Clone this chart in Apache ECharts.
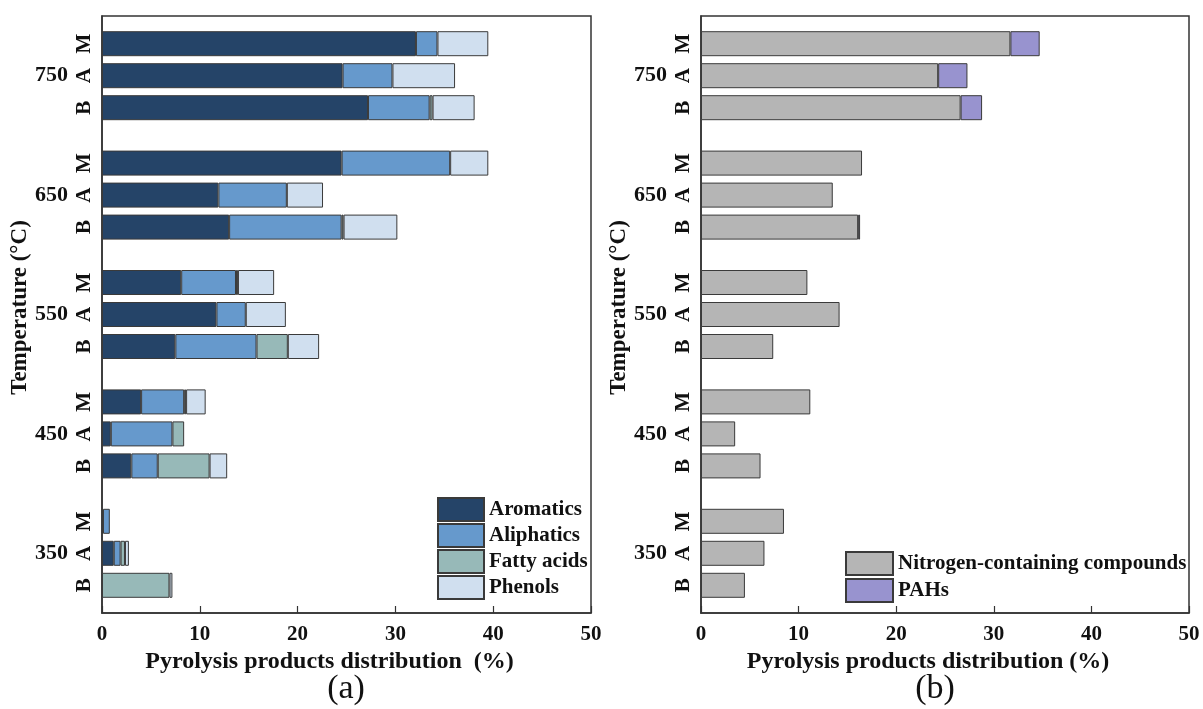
<!DOCTYPE html>
<html>
<head>
<meta charset="utf-8">
<script src="https://cdn.jsdelivr.net/npm/echarts@6/dist/echarts.min.js"></script>
<style>
html,body{margin:0;padding:0;background:#fff;}
#chart{width:1203px;height:709px;}
</style>
</head>
<body>
<div id="chart"></div>
<script>
// ---- data ----
const temps = ['350', '450', '550', '650', '750'];
const samples = ['M', 'A', 'B'];   // drawn top to bottom within each temperature

// panel (a) – values per temperature 350..750
const aromaticsB  = [0,   3.0, 7.5, 13.0, 27.2];
const aromaticsA  = [1.2, 0.9, 11.7, 11.9, 24.6];
const aromaticsM  = [0.1, 4.0, 8.1, 24.5, 32.1];
const aliphaticsB = [0,   2.7, 8.3, 11.5, 6.3];
const aliphaticsA = [0.7, 6.3, 3.0, 7.0, 5.1];
const aliphaticsM = [0.7, 4.4, 5.6, 11.1, 2.2];
const fattyB      = [6.9, 5.3, 3.2, 0.2, 0.3];
const fattyA      = [0.45, 1.2, 0, 0, 0];
const fattyM      = [0, 0.2, 0.2, 0, 0];
const phenolsB    = [0.3, 1.8, 3.2, 5.5, 4.3];
const phenolsA    = [0.4, 0, 4.1, 3.7, 6.4];
const phenolsM    = [0, 2.0, 3.7, 3.9, 5.2];

// panel (b)
const nitrogenB = [4.5, 6.1, 7.4, 16.1, 26.6];
const nitrogenA = [6.5, 3.5, 14.2, 13.5, 24.3];
const nitrogenM = [8.5, 11.2, 10.9, 16.5, 31.7];
const pahsB     = [0, 0, 0, 0.2, 2.2];
const pahsA     = [0, 0, 0, 0, 3.0];
const pahsM     = [0, 0, 0, 0, 3.0];

const xTicks = [0, 10, 20, 30, 40, 50];

// ---- styling ----
const FONT = '"Liberation Serif", "Times New Roman", serif';
const INK = '#111';
const AX = '#333';
const BW = 25;
const GAP = '28%';

const leftCats = [
  {name: 'Aromatics',   color: '#254468', d: {B: aromaticsB, A: aromaticsA, M: aromaticsM}},
  {name: 'Aliphatics',  color: '#6699cc', d: {B: aliphaticsB, A: aliphaticsA, M: aliphaticsM}},
  {name: 'Fatty acids', color: '#97b9b8', d: {B: fattyB, A: fattyA, M: fattyM}},
  {name: 'Phenols',     color: '#d0dfef', d: {B: phenolsB, A: phenolsA, M: phenolsM}}
];
const rightCats = [
  {name: 'Nitrogen-containing compounds', color: '#b5b5b5', d: {B: nitrogenB, A: nitrogenA, M: nitrogenM}},
  {name: 'PAHs', color: '#9893cf', d: {B: pahsB, A: pahsA, M: pahsM}}
];

function nz(arr) { return arr.map(v => v === 0 ? '-' : v); }

const series = [];
function buildPanel(cats, idx) {
  samples.forEach(s => {
    series.push({
      type: 'bar', name: '_lbl', stack: 'p' + idx + s,
      xAxisIndex: idx, yAxisIndex: idx, silent: true,
      barWidth: BW, barGap: GAP,
      data: temps.map(() => 0),
      itemStyle: {color: 'transparent', borderWidth: 0},
      label: {
        show: true, position: 'left', distance: 17, rotate: 90,
        align: 'center', verticalAlign: 'middle',
        formatter: s, color: INK, fontFamily: FONT, fontWeight: 'bold', fontSize: 21
      }
    });
    cats.forEach(c => {
      series.push({
        type: 'bar', name: c.name, stack: 'p' + idx + s,
        xAxisIndex: idx, yAxisIndex: idx,
        barWidth: BW, barGap: GAP,
        data: nz(c.d[s]),
        itemStyle: {color: c.color, borderColor: '#3a3a3a', borderWidth: 1}
      });
    });
  });
}
buildPanel(leftCats, 0);
buildPanel(rightCats, 1);

const grids = [
  {left: 102, top: 16, width: 489, height: 597},
  {left: 701, top: 16, width: 488, height: 597}
];

function xAxis(i) {
  return {
    type: 'value', gridIndex: i, min: 0, max: 50, interval: 10,
    name: i === 0 ? 'Pyrolysis products distribution  (%)' : 'Pyrolysis products distribution (%)',
    nameLocation: 'middle', nameGap: 32,
    nameTextStyle: {color: INK, fontFamily: FONT, fontWeight: 'bold', fontSize: 24, padding: [0, 34, 0, 0]},
    axisLine: {show: true, lineStyle: {color: AX, width: 1.5}},
    axisTick: {show: true, inside: true, length: 7, lineStyle: {color: AX, width: 1.2}},
    splitLine: {show: false},
    axisLabel: {color: INK, fontFamily: FONT, fontWeight: 'bold', fontSize: 21, margin: 11,
      formatter: v => xTicks.includes(v) ? String(v) : ''}
  };
}
function yAxis(i) {
  return {
    type: 'category', gridIndex: i, data: temps,
    name: 'Temperature (°C)', nameLocation: 'middle', nameGap: 64, nameRotate: 90,
    nameTextStyle: {color: INK, fontFamily: FONT, fontWeight: 'bold', fontSize: 23, padding: [0, 0, 0, 14]},
    axisLine: {show: true, lineStyle: {color: AX, width: 1.5}},
    axisTick: {show: false},
    axisLabel: {color: INK, fontFamily: FONT, fontWeight: 'bold', fontSize: 22, margin: 34}
  };
}

const legendText = {color: INK, fontFamily: FONT, fontWeight: 'bold', fontSize: 21, lineHeight: 22};

const option = {
  animation: false,
  backgroundColor: '#fff',
  grid: grids.map(g => Object.assign({show: true, borderColor: AX, borderWidth: 1.5, backgroundColor: 'transparent'}, g)),
  xAxis: [xAxis(0), xAxis(1)],
  yAxis: [yAxis(0), yAxis(1)],
  legend: [
    {data: leftCats.map(c => c.name), orient: 'vertical', left: 437, top: 497, padding: 0, icon: 'rect',
     itemWidth: 46, itemHeight: 23, itemGap: 1, textStyle: legendText, selectedMode: false},
    {data: rightCats.map(c => c.name), orient: 'vertical', left: 845, top: 551, padding: 0, icon: 'rect',
     itemWidth: 47, itemHeight: 23, itemGap: 2, textStyle: legendText, selectedMode: false}
  ],
  graphic: [
    {type: 'text', x: 346, y: 689, style: {text: '(a)', textAlign: 'center', textVerticalAlign: 'middle',
      font: '34px "Liberation Serif", serif', fill: INK}},
    {type: 'text', x: 935, y: 689, style: {text: '(b)', textAlign: 'center', textVerticalAlign: 'middle',
      font: '34px "Liberation Serif", serif', fill: INK}}
  ],
  series: series
};

const chart = echarts.init(document.getElementById('chart'), null, {renderer: 'canvas'});
chart.setOption(option);
</script>
</body>
</html>
